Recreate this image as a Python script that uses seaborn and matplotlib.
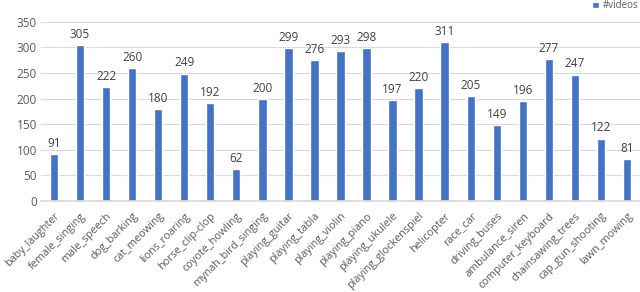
import matplotlib
matplotlib.use("Agg")
import matplotlib.pyplot as plt
import seaborn as sns
import pandas as pd

categories = [
    "baby_laughter", "female_singing", "male_speech", "dog_barking", "cat_meowing",
    "lions_roaring", "horse_clip-clop", "coyote_howling", "mynah_bird_singing",
    "playing_guitar", "playing_tabla", "playing_violin", "playing_piano",
    "playing_ukulele", "playing_glockenspiel", "helicopter", "race_car",
    "driving_buses", "ambulance_siren", "computer_keyboard", "chainsawing_trees",
    "cap_gun_shooting", "lawn_mowing",
]
videos = [91, 305, 222, 260, 180, 249, 192, 62, 200, 299, 276, 293, 298,
          197, 220, 311, 205, 149, 196, 277, 247, 122, 81]
y_ticks = [0, 50, 100, 150, 200, 250, 300, 350]

df = pd.DataFrame({"category": categories, "#videos": videos})

sns.set_theme(style="white")
plt.rcParams["font.family"] = ["Open Sans", "DejaVu Sans"]

fig = plt.figure(figsize=(6.4, 2.92), dpi=100)
ax = fig.add_axes([0.064, 0.312, 0.936, 0.613])

bar_color = "#4472C4"
sns.barplot(data=df, x="category", y="#videos", color=bar_color, width=0.32,
            saturation=1, ax=ax, label="#videos")

for i, v in enumerate(videos):
    ax.text(i, v + 8, str(v), ha="center", va="bottom", fontsize=8.5, color="#404040")

ax.set_ylim(0, 350)
ax.set_yticks(y_ticks)
ax.set_xlim(-0.5, len(categories) - 0.5)
ax.yaxis.grid(True, color="#D9D9D9", linewidth=0.8)
ax.set_axisbelow(True)
for s in ["top", "right", "left"]:
    ax.spines[s].set_visible(False)
ax.spines["bottom"].set_color("#D9D9D9")
ax.set_xlabel("")
ax.set_ylabel("")
ax.tick_params(axis="y", length=0, labelsize=8.5, colors="#595959", pad=3)
ax.tick_params(axis="x", length=0, labelsize=7.8, colors="#595959", pad=7)
plt.setp(ax.get_xticklabels(), rotation=45, ha="right", rotation_mode="anchor")

ax.legend(loc="upper right", bbox_to_anchor=(0.997, 1.12), frameon=False,
          fontsize=7, handlelength=0.7, handleheight=0.7, handletextpad=0.4,
          labelcolor="#595959", borderaxespad=0, borderpad=0)

fig.savefig("out.png", dpi=100)
